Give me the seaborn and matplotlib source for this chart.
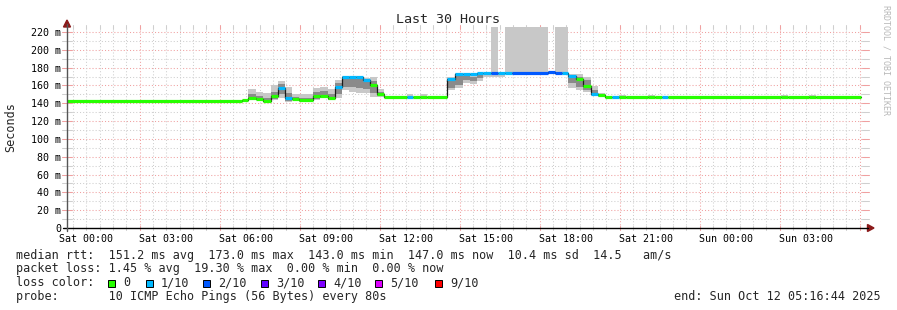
import numpy as np
import pandas as pd
import matplotlib
matplotlib.use("Agg")
import matplotlib.pyplot as plt
import seaborn as sns
from matplotlib.patches import Rectangle, Polygon
from matplotlib.lines import Line2D

# ---------------- data (hours relative to Sat 00:00) ----------------
seg_start = [-0.72, 5.84, 6.07, 6.37, 6.63, 6.93, 7.19, 7.45, 7.72, 7.98,
             8.50, 8.77, 9.07, 9.33, 9.59, 9.85, 10.12, 10.38, 10.64, 10.90,
             11.17, 12.03, 12.25, 12.52, 12.78, 13.53, 13.83, 14.13, 14.39, 14.65,
             14.88, 15.18, 15.44, 15.70, 15.97, 17.32, 17.58, 17.84, 18.07, 18.37,
             18.63, 18.93, 19.19, 19.45, 19.72, 19.98, 20.24, 21.07, 21.33, 21.59,
             21.82, 26.05, 26.32, 27.10, 27.37]
data_end = 29.05
median_ms = [143, 144, 145.5, 144.5, 143, 148, 157, 145.5, 144.5, 143.5,
             148, 148, 145.5, 158.6, 169.2, 170, 170, 166, 161, 150,
             147.5, 147.5, 147.5, 147.5, 147.5, 167, 173, 172.5, 172.5, 173.5,
             173.5, 173.5, 173.5, 173.5, 174, 175, 174, 173.5, 170.6, 167,
             159.5, 150, 149, 147.5, 147.5, 147.5, 147.5, 147.5, 147.5, 147.5,
             147.5, 147.5, 147.5, 147.5, 147.5]
loss_of10 = [0, 0, 0, 0, 0, 0, 1, 1, 0, 0,
             0, 0, 0, 1, 1, 1, 1, 1, 0, 0,
             0, 1, 0, 0, 0, 1, 1, 1, 1, 1,
             1, 2, 1, 1, 2, 2, 2, 1, 1, 0,
             0, 1, 0, 0, 1, 0, 0, 0, 0, 1,
             0, 0, 0, 0, 0]
nan = np.nan
smoke_lo = [nan, nan, 143.7, 143.7, 141.8, 143.7, 145.6, 141.8, 143.7, 141.8,
            143.7, 145.6, 143.7, 145.6, 154.9, 153, 152, 151, 147, 147.5,
            nan, 147, nan, 147, nan, 154.9, 156.8, 163, 161.5, 165,
            170, 169.8, 170, 173, 173, 173, 173, 173, 157.5, 155,
            153, 148, 147.5, nan, nan, 147, nan, 147, nan, nan,
            nan, 147, nan, 147, nan]
smoke_hi = [nan, nan, 156, 153, 151.5, 160.5, 165.3, 158.3, 150.4, 150.4,
            157.5, 158.6, 156, 166.5, 170.5, 171, 170.5, 168, 170, 156,
            nan, 150, nan, 150, nan, 169.8, 173.6, 173, 172, 173.6,
            174, 232, 174, 232, 232, 176, 232, 232, 172.9, 173,
            170, 159.7, 151, nan, nan, 149.5, nan, 149.5, nan, nan,
            nan, 149.5, nan, 149.5, nan]
core_lo = [nan, nan, 145, 144, 142.5, 145, 150, 143, 144, 142.5,
           145, 146, 144, 150, 158, 158, 157, 156, 152, 148,
           nan, nan, nan, nan, nan, 157, 160, 166, 165, 168,
           nan, nan, nan, nan, nan, nan, nan, nan, 163, 158,
           155, 149, nan, nan, nan, nan, nan, nan, nan, nan,
           nan, nan, nan, nan, nan]
core_hi = [nan, nan, 150, 148, 146, 153, 162, 152, 147, 146,
           153, 154, 150, 163, 168, 168, 167, 165, 165, 153,
           nan, nan, nan, nan, nan, 166, 171, 171, 170, 172,
           nan, nan, nan, nan, nan, nan, nan, nan, 170, 170,
           166, 155, nan, nan, nan, nan, nan, nan, nan, nan,
           nan, nan, nan, nan, nan]

x_tick_pos = [0, 3, 6, 9, 12, 15, 18, 21, 24, 27]
x_tick_labels = ["Sat 00:00", "Sat 03:00", "Sat 06:00", "Sat 09:00", "Sat 12:00",
                 "Sat 15:00", "Sat 18:00", "Sat 21:00", "Sun 00:00", "Sun 03:00"]
y_tick_pos = [0, 20, 40, 60, 80, 100, 120, 140, 160, 180, 200, 220]
y_tick_labels = ["0", "20 m", "40 m", "60 m", "80 m", "100 m", "120 m",
                 "140 m", "160 m", "180 m", "200 m", "220 m"]

loss_names = ["0", "1/10", "2/10", "3/10", "4/10", "5/10", "9/10"]
loss_levels = [0, 1, 2, 3, 4, 5, 9]
loss_colors = ["#26ff00", "#00b8ff", "#0059ff", "#5e00ff", "#7e00ff", "#dd00ff", "#ff0000"]

x_start, x_end = -0.7211, 29.2789
y_top = 225.6

# ---------------- figure ----------------
sns.set_theme(style="white")
plt.rcParams['font.family'] = ['DejaVu Sans Mono', 'DejaVu Sans']

W, H = 897, 310
fig = plt.figure(figsize=(W / 100, H / 100), dpi=100)
fig.patch.set_facecolor("white")

def fx(px):
    return px / W

def fy(py):
    return 1 - py / H

L, R, T, B = 67, 867, 27, 228
ax = fig.add_axes([fx(L), fy(B), (R - L) / W, (B - T) / H])
ax.set_facecolor("white")
ax.set_xlim(x_start, x_end)
ax.set_ylim(0, y_top)
for s in ax.spines.values():
    s.set_visible(False)

minor_c = "#cfcfcf"
major_c = "#f0a0a0"
# horizontal grid
for v in np.arange(10, 225, 10):
    c = major_c if v % 20 == 0 else minor_c
    ax.axhline(v, color=c, lw=0.75, dashes=(1, 2), zorder=0)
    ax.plot([-0.006, 0.006], [v, v], color=c, lw=0.75, clip_on=False,
            transform=ax.get_yaxis_transform(), zorder=1)
    ax.plot([0.994, 1.003], [v, v], color=c, lw=0.75, clip_on=False,
            transform=ax.get_yaxis_transform(), zorder=1)
# vertical grid: minor every 30 min, major every 3 h
for h in np.arange(-0.5, 29.3, 0.5):
    c = major_c if (round(h * 2) % 6 == 4) else minor_c
    ax.axvline(h, color=c, lw=0.75, dashes=(1, 2), zorder=0)
    ax.plot([h, h], [-0.01, 0.01], color=c, lw=0.75, clip_on=False,
            transform=ax.get_xaxis_transform(), zorder=1)
    ax.plot([h, h], [0.99, 1.01], color=c, lw=0.75, clip_on=False,
            transform=ax.get_xaxis_transform(), zorder=1)

# smoke
seg_end = seg_start[1:] + [data_end]
df = pd.DataFrame({
    "start": seg_start, "end": seg_end, "median": median_ms, "loss": loss_of10,
    "lo": smoke_lo, "hi": smoke_hi, "clo": core_lo, "chi": core_hi,
})
df["width"] = df["end"] - df["start"]
sm = df.dropna(subset=["lo"])
ax.bar(sm["start"], sm["hi"] - sm["lo"], width=sm["width"], bottom=sm["lo"],
       align="edge", color="#c8c8c8", linewidth=0, zorder=2)
cm = df.dropna(subset=["clo"])
ax.bar(cm["start"], cm["chi"] - cm["clo"], width=cm["width"], bottom=cm["clo"],
       align="edge", color="#8a8a8a", linewidth=0, zorder=3)

# median step line (dark)
step_df = pd.DataFrame({"t": seg_start + [data_end], "m": median_ms + [median_ms[-1]]})
sns.lineplot(data=step_df, x="t", y="m", drawstyle="steps-post", color="#1a1a1a",
             lw=0.9, ax=ax, zorder=4)

# loss-coloured median
cmap = dict(zip(loss_levels, loss_colors))
ax.hlines(df["median"], df["start"], df["end"], colors=[cmap[l] for l in df["loss"]],
          lw=2.3, zorder=5, capstyle="butt")

# ticks & labels
ax.set_xticks(x_tick_pos)
ax.set_xticklabels(x_tick_labels, fontsize=7.2)
ax.set_yticks(y_tick_pos)
ax.set_yticklabels(y_tick_labels, fontsize=7.2)
ax.tick_params(axis="x", length=0, pad=4.3, colors="black")
ax.tick_params(axis="y", length=0, pad=4.3, colors="black")
ax.set_xlabel("")
ax.set_ylabel("")

# axes lines and arrows
fig.add_artist(Line2D([fx(63), fx(868)], [fy(228), fy(228)], color="black", lw=1.0))
fig.add_artist(Line2D([fx(67), fx(67)], [fy(231), fy(24)], color="#555555", lw=1.0))
arrow_c = "#8b1a1a"
fig.add_artist(Polygon([[fx(63.5), fy(27)], [fx(70.5), fy(27)], [fx(67), fy(20)]],
                       closed=True, color=arrow_c, transform=fig.transFigure))
fig.add_artist(Polygon([[fx(867.5), fy(224.5)], [fx(867.5), fy(231.5)], [fx(874), fy(228)]],
                       closed=True, color=arrow_c, transform=fig.transFigure))

# titles
fig.text(fx(448), fy(19.5), "Last 30 Hours", ha="center", va="center", fontsize=9.6)
fig.text(fx(11), fy(127), "Seconds", ha="center", va="center", rotation=90, fontsize=8.5)
fig.text(fx(886), fy(60), "RRDTOOL / TOBI OETIKER", ha="center", va="center",
         rotation=270, fontsize=6, color="#b8b8b8")

# legend block
fs = 8.5
fig.text(fx(16), fy(255), "median rtt:  151.2 ms avg  173.0 ms max  143.0 ms min  147.0 ms now  10.4 ms sd  14.5   am/s",
         ha="left", va="center", fontsize=fs)
fig.text(fx(16), fy(268.5), "packet loss: 1.45 % avg  19.30 % max  0.00 % min  0.00 % now",
         ha="left", va="center", fontsize=fs)
fig.text(fx(16), fy(282.5), "loss color:", ha="left", va="center", fontsize=fs)
box_x = [108, 146, 203, 261, 318, 375, 435]
for bx, name, col in zip(box_x, loss_names, loss_colors):
    fig.add_artist(Rectangle((fx(bx), fy(286.5)), 7 / W, 7 / H, facecolor=col,
                             edgecolor="black", lw=0.7, transform=fig.transFigure))
    fig.text(fx(bx + 15), fy(282.5), name, ha="left", va="center", fontsize=fs)
fig.text(fx(16), fy(296.5), "probe:       10 ICMP Echo Pings (56 Bytes) every 80s",
         ha="left", va="center", fontsize=fs)
fig.text(fx(881), fy(296.5), "end: Sun Oct 12 05:16:44 2025", ha="right", va="center", fontsize=fs)

fig.savefig("out.png", dpi=100, facecolor="white")
